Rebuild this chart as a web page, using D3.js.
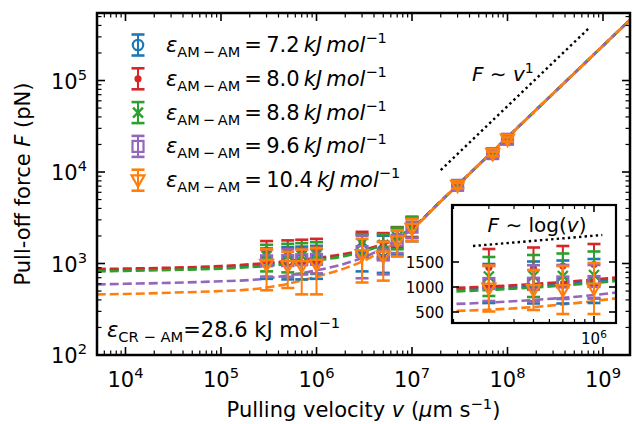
<!DOCTYPE html>
<html><head><meta charset="utf-8">
<script src="https://cdn.jsdelivr.net/npm/d3@7"></script>
<style>body{margin:0;background:#fff}svg{display:block;font-family:"DejaVu Sans",sans-serif}</style>
</head><body><div id="c"></div>
<script>
// ---------- data ----------
const velocities = [3e5, 5e5, 7e5, 1e6, 3e6, 5e6, 7e6, 1e7, 3e7, 7e7, 1e8];
const seriesLabels = ["7.2", "8.0", "8.8", "9.6", "10.4"];
const seriesColors = ["#1f77b4", "#d62728", "#2ca02c", "#9467bd", "#ff7f0e"];
const seriesMarkers = ["circle", "dot", "x", "square", "tri"];
const forceBlue   = [1070, 1090, 1100, 1120, 1450, 1400, 1850, 2450, 7100, 15700, 22600];
const errBlue     = [390, 420, 430, 440, 630, 610, 600, 700, 500, 900, 1200];
const forceRed    = [1390, 1370, 1420, 1450, 1730, 1660, 2000, 2600, 7250, 16100, 23100];
const errRed      = [370, 420, 400, 410, 490, 490, 500, 650, 500, 900, 1200];
const forceGreen  = [1210, 1220, 1220, 1240, 1660, 1600, 1950, 2550, 7200, 16000, 22900];
const errGreen    = [390, 420, 450, 470, 430, 480, 520, 650, 500, 900, 1200];
const forcePurple = [1070, 1075, 1100, 1110, 1350, 1240, 1800, 2500, 7150, 15900, 22800];
const errPurple   = [350, 360, 340, 330, 660, 480, 500, 600, 500, 900, 1200];
const forceOrange = [970, 940, 940, 970, 1240, 1190, 1750, 2400, 7100, 15800, 22700];
const errOrange   = [460, 400, 480, 510, 620, 540, 560, 650, 500, 900, 1200];

const fitVelocities = [5e3, 1e4, 3e4, 1e5, 2e5, 5e5, 1e6, 2e6, 3e6, 5e6, 1e7, 2e7, 5e7, 1e8, 3e8, 1e9, 2e9];
const fitBlue   = [850, 860, 880, 910, 950, 1020, 1110, 1240, 1370, 1620, 2440, 4800, 12000, 24000, 72000, 240000, 480000];
const fitRed    = [870, 880, 900, 940, 980, 1060, 1150, 1280, 1400, 1650, 2450, 4800, 12000, 24000, 72000, 240000, 480000];
const fitGreen  = [820, 830, 850, 880, 910, 990, 1080, 1210, 1340, 1600, 2430, 4800, 12000, 24000, 72000, 240000, 480000];
const fitPurple = [590, 600, 615, 640, 660, 740, 840, 1000, 1150, 1480, 2380, 4780, 12000, 24000, 72000, 240000, 480000];
const fitOrange = [460, 465, 480, 500, 520, 600, 720, 890, 1050, 1400, 2350, 4770, 12000, 24000, 72000, 240000, 480000];

const guideLinVel = [2e7, 7e8];
const guideLinForce = [1.05e4, 3.67e5];
const guideLogVel = [2.5e5, 1.1e6];
const guideLogForce = [1820, 2040];

const xMajorTicks = [1e4, 1e5, 1e6, 1e7, 1e8, 1e9];
const yMajorTicks = [1e2, 1e3, 1e4, 1e5];
const insetYTicks = [500, 1000, 1500];
const insetXTicks = [1e6];

const forces = [forceBlue, forceRed, forceGreen, forcePurple, forceOrange];
const errs = [errBlue, errRed, errGreen, errPurple, errOrange];
const fits = [fitBlue, fitRed, fitGreen, fitPurple, fitOrange];

// ---------- layout ----------
const W = 632, H = 424;
const L = 97, R = 630, T = 13, B = 355;
const svg = d3.select("#c").append("svg").attr("width", W).attr("height", H);
svg.append("rect").attr("width", W).attr("height", H).attr("fill", "#fff");

const x = d3.scaleLog().domain([5030, 1.917e9]).range([L, R]);
const y = d3.scaleLog().domain([100, 5.47e5]).range([B, T]);

const defs = svg.append("defs");
defs.append("clipPath").attr("id", "mainclip").append("rect").attr("x", L).attr("y", T).attr("width", R - L).attr("height", B - T);
const IL = 452, IR = 616, IT = 205, IB = 323;
defs.append("clipPath").attr("id", "insetclip").append("rect").attr("x", IL).attr("y", IT).attr("width", IR - IL).attr("height", IB - IT);
const xi = d3.scaleLog().domain([1.966e5, 1.287e6]).range([IL, IR]);
const yi = d3.scaleLinear().domain([280, 2640]).range([IB, IT]);

function drawMarker(g, type, color, cx, cy) {
  if (type === "circle") {
    g.append("circle").attr("cx", cx).attr("cy", cy).attr("r", 5.2).attr("fill", "none").attr("stroke", color).attr("stroke-width", 2.2);
  } else if (type === "dot") {
    g.append("circle").attr("cx", cx).attr("cy", cy).attr("r", 3.6).attr("fill", color);
  } else if (type === "x") {
    const s = 5;
    g.append("path").attr("d", `M${cx - s},${cy - s}L${cx + s},${cy + s}M${cx - s},${cy + s}L${cx + s},${cy - s}`).attr("stroke", color).attr("stroke-width", 2.4).attr("fill", "none");
  } else if (type === "square") {
    const s = 5.5;
    g.append("rect").attr("x", cx - s).attr("y", cy - s).attr("width", 2 * s).attr("height", 2 * s).attr("fill", "none").attr("stroke", color).attr("stroke-width", 2.2);
  } else if (type === "tri") {
    const s = 6.5;
    g.append("path").attr("d", `M${cx - s},${cy - s * 0.75}L${cx + s},${cy - s * 0.75}L${cx},${cy + s}Z`).attr("fill", "none").attr("stroke", color).attr("stroke-width", 2.2);
  }
}
function drawErrorbar(g, color, cx, y1, y2, cap) {
  g.append("line").attr("x1", cx).attr("x2", cx).attr("y1", y1).attr("y2", y2).attr("stroke", color).attr("stroke-width", 2);
  [y1, y2].forEach(yy => g.append("line").attr("x1", cx - cap).attr("x2", cx + cap).attr("y1", yy).attr("y2", yy).attr("stroke", color).attr("stroke-width", 2.6));
}

function drawData(g, xs, ys) {
  const line = d3.line().x(d => xs(d[0])).y(d => ys(d[1])).curve(d3.curveMonotoneX);
  fits.forEach((f, i) => {
    g.append("path").attr("d", line(fitVelocities.map((v, k) => [v, f[k]])))
      .attr("fill", "none").attr("stroke", seriesColors[i]).attr("stroke-width", 2.6).attr("stroke-dasharray", "9,4");
  });
  forces.forEach((fs, i) => {
    const sg = g.append("g");
    velocities.forEach((v, k) => {
      const cx = xs(v);
      drawErrorbar(sg, seriesColors[i], cx, ys(fs[k] + errs[i][k]), ys(fs[k] - errs[i][k]), 6.5);
      drawMarker(sg, seriesMarkers[i], seriesColors[i], cx, ys(fs[k]));
    });
  });
}

// main plot content
const main = svg.append("g").attr("clip-path", "url(#mainclip)");
drawData(main, x, y);
main.append("path").attr("d", d3.line().x(d => x(d[0])).y(d => y(d[1]))(guideLinVel.map((v, k) => [v, guideLinForce[k]])))
  .attr("stroke", "#000").attr("stroke-width", 2.4).attr("stroke-dasharray", "2.4,3.2").attr("fill", "none");

// ---------- ticks helper ----------
function logMinor(domain) {
  const out = [];
  const lo = Math.floor(Math.log10(domain[0])), hi = Math.ceil(Math.log10(domain[1]));
  for (let e = lo; e <= hi; e++) for (let k = 2; k <= 9; k++) {
    const v = k * Math.pow(10, e);
    if (v >= domain[0] && v <= domain[1]) out.push(v);
  }
  return out;
}
function supLabel(sel, base, exp, size) {
  sel.append("tspan").text(base);
  sel.append("tspan").attr("dy", -0.42 * size).attr("font-size", size * 0.7).text(exp);
}
const tk = svg.append("g").attr("stroke", "#000");
xMajorTicks.forEach(v => {
  const px = x(v);
  tk.append("line").attr("x1", px).attr("x2", px).attr("y1", B).attr("y2", B - 8).attr("stroke-width", 1.6);
  tk.append("line").attr("x1", px).attr("x2", px).attr("y1", T).attr("y2", T + 8).attr("stroke-width", 1.6);
  const t = svg.append("text").attr("x", px).attr("y", 387).attr("text-anchor", "middle").attr("font-size", 21);
  supLabel(t, "10", String(Math.round(Math.log10(v))), 21);
});
logMinor(x.domain()).forEach(v => {
  const px = x(v);
  tk.append("line").attr("x1", px).attr("x2", px).attr("y1", B).attr("y2", B - 4.5).attr("stroke-width", 1.2);
  tk.append("line").attr("x1", px).attr("x2", px).attr("y1", T).attr("y2", T + 4.5).attr("stroke-width", 1.2);
});
yMajorTicks.forEach(v => {
  const py = y(v);
  tk.append("line").attr("x1", L).attr("x2", L + 8).attr("y1", py).attr("y2", py).attr("stroke-width", 1.6);
  tk.append("line").attr("x1", R).attr("x2", R - 8).attr("y1", py).attr("y2", py).attr("stroke-width", 1.6);
  const t = svg.append("text").attr("x", 87).attr("y", py + 8).attr("text-anchor", "end").attr("font-size", 21);
  supLabel(t, "10", String(Math.round(Math.log10(v))), 21);
});
logMinor(y.domain()).forEach(v => {
  const py = y(v);
  tk.append("line").attr("x1", L).attr("x2", L + 4.5).attr("y1", py).attr("y2", py).attr("stroke-width", 1.2);
  tk.append("line").attr("x1", R).attr("x2", R - 4.5).attr("y1", py).attr("y2", py).attr("stroke-width", 1.2);
});
svg.append("rect").attr("x", L).attr("y", T).attr("width", R - L).attr("height", B - T).attr("fill", "none").attr("stroke", "#000").attr("stroke-width", 2.5);

// axis labels
const xl = svg.append("text").attr("x", (L + R) / 2).attr("y", 417).attr("text-anchor", "middle").attr("font-size", 21);
xl.append("tspan").text("Pulling velocity ");
xl.append("tspan").attr("font-style", "italic").text("v");
xl.append("tspan").text(" (");
xl.append("tspan").attr("font-style", "italic").text("μ");
xl.append("tspan").text("m s");
xl.append("tspan").attr("dy", -8).attr("font-size", 14.7).text("−1");
xl.append("tspan").attr("dy", 8).text(")");
const yl = svg.append("text").attr("transform", `translate(30,${(T + B) / 2}) rotate(-90)`).attr("text-anchor", "middle").attr("font-size", 21);
yl.append("tspan").text("Pull-off force ");
yl.append("tspan").attr("font-style", "italic").text("F");
yl.append("tspan").text(" (pN)");

// guide label F ~ v^1
const g1 = svg.append("text").attr("x", 472).attr("y", 81).attr("font-size", 20);
g1.append("tspan").attr("font-style", "italic").text("F");
g1.append("tspan").text(" ∼ ");
g1.append("tspan").attr("font-style", "italic").text("v");
g1.append("tspan").attr("dy", -8).attr("font-size", 14).text("1");

// legend
const legY0 = 45, legDY = 33.8;
seriesLabels.forEach((lab, i) => {
  const cy = legY0 + i * legDY;
  const lg = svg.append("g");
  drawErrorbar(lg, seriesColors[i], 138, cy - 10.5, cy + 10.5, 6.5);
  drawMarker(lg, seriesMarkers[i], seriesColors[i], 138, cy);
  const t = svg.append("text").attr("x", 166).attr("y", cy + 7).attr("font-size", 21);
  t.append("tspan").attr("font-style", "italic").text("ε");
  t.append("tspan").attr("dy", 5).attr("font-size", 14.5).text("AM\u2009−\u2009AM");
  t.append("tspan").attr("dy", -5).text("\u2009=\u2009" + lab + "\u2009");
  t.append("tspan").attr("font-style", "italic").text("kJ\u2009mol");
  t.append("tspan").attr("dy", -9).attr("font-size", 14.5).text("−1");
});

// epsilon CR-AM
const ec = svg.append("text").attr("x", 107).attr("y", 337).attr("font-size", 21);
ec.append("tspan").attr("font-style", "italic").text("ε");
ec.append("tspan").attr("dy", 5).attr("font-size", 14.7).text("CR − AM");
ec.append("tspan").attr("dy", -5).text("=28.6 kJ mol");
ec.append("tspan").attr("dy", -9).attr("font-size", 14.7).text("−1");

// ---------- inset ----------
svg.append("rect").attr("x", IL).attr("y", IT).attr("width", IR - IL).attr("height", IB - IT).attr("fill", "#fff");
const ins = svg.append("g").attr("clip-path", "url(#insetclip)");
drawData(ins, xi, yi);
ins.append("path").attr("d", d3.line().x(d => xi(d[0])).y(d => yi(d[1]))(guideLogVel.map((v, k) => [v, guideLogForce[k]])))
  .attr("stroke", "#000").attr("stroke-width", 2.4).attr("stroke-dasharray", "2.4,3.2").attr("fill", "none");
const it = svg.append("g").attr("stroke", "#000");
insetYTicks.forEach(v => {
  const py = yi(v);
  it.append("line").attr("x1", IL).attr("x2", IL + 7).attr("y1", py).attr("y2", py).attr("stroke-width", 1.6);
  it.append("line").attr("x1", IR).attr("x2", IR - 7).attr("y1", py).attr("y2", py).attr("stroke-width", 1.6);
  svg.append("text").attr("x", 444).attr("y", py + 5.5).attr("text-anchor", "end").attr("font-size", 15).text(v);
});
insetXTicks.forEach(v => {
  const px = xi(v);
  it.append("line").attr("x1", px).attr("x2", px).attr("y1", IB).attr("y2", IB - 7).attr("stroke-width", 1.6);
  it.append("line").attr("x1", px).attr("x2", px).attr("y1", IT).attr("y2", IT + 7).attr("stroke-width", 1.6);
  const t = svg.append("text").attr("x", px).attr("y", 344).attr("text-anchor", "middle").attr("font-size", 15);
  supLabel(t, "10", String(Math.round(Math.log10(v))), 15);
});
logMinor(xi.domain()).forEach(v => {
  const px = xi(v);
  it.append("line").attr("x1", px).attr("x2", px).attr("y1", IB).attr("y2", IB - 4).attr("stroke-width", 1.2);
  it.append("line").attr("x1", px).attr("x2", px).attr("y1", IT).attr("y2", IT + 4).attr("stroke-width", 1.2);
});
svg.append("rect").attr("x", IL).attr("y", IT).attr("width", IR - IL).attr("height", IB - IT).attr("fill", "none").attr("stroke", "#000").attr("stroke-width", 2.2);
const il = svg.append("text").attr("x", 537).attr("y", 232).attr("text-anchor", "middle").attr("font-size", 20);
il.append("tspan").attr("font-style", "italic").text("F");
il.append("tspan").text(" ∼ log(");
il.append("tspan").attr("font-style", "italic").text("v");
il.append("tspan").text(")");
</script></body></html>
